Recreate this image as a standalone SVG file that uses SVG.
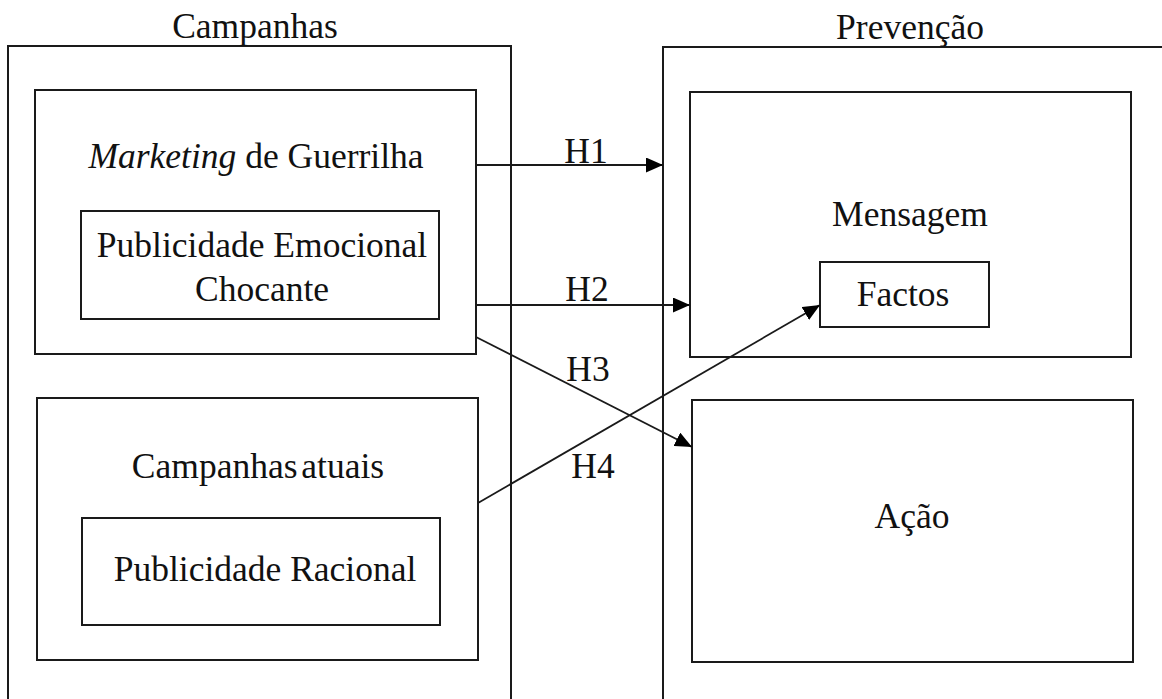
<svg xmlns="http://www.w3.org/2000/svg" width="1162" height="699" viewBox="0 0 1162 699">
<style>
.box{fill:none;stroke:#1a1a1a;stroke-width:2}
.con{fill:none;stroke:#1a1a1a;stroke-width:1.8}
.t{font-family:'Liberation Serif',serif;font-size:35.5px;fill:#111;text-anchor:middle}
</style>
<defs>
<marker id="ah" markerUnits="userSpaceOnUse" markerWidth="18" markerHeight="15" refX="17" refY="7.5" orient="auto">
<path d="M0,0 L17,7.5 L0,15 z" fill="#000"/>
</marker>
</defs>
<rect width="1162" height="699" fill="#fff"/>
<g id="campanhas">
<path class="box" d="M8,704 V46 H511 V704"/>
<text class="t" x="255" y="38">Campanhas</text>
</g>
<g id="prevencao">
<path class="box" d="M663,704 V47 H1170"/>
<text class="t" x="910" y="39">Prevenção</text>
</g>
<g id="guerrilha">
<rect class="box" x="35" y="90" width="441" height="264"/>
<text class="t" x="256" y="168"><tspan font-style="italic">Marketing</tspan> de Guerrilha</text>
</g>
<g id="emocional">
<rect class="box" x="81" y="211" width="358" height="108"/>
<text class="t" x="262" y="257">Publicidade Emocional</text>
<text class="t" x="262" y="301">Chocante</text>
</g>
<g id="atuais">
<rect class="box" x="37" y="398" width="441" height="262"/>
<text class="t" x="258" y="478" word-spacing="-5">Campanhas atuais</text>
</g>
<g id="racional">
<rect class="box" x="82" y="518" width="358" height="107"/>
<text class="t" x="265" y="581">Publicidade Racional</text>
</g>
<g id="mensagem">
<rect class="box" x="690" y="92" width="441" height="265"/>
<text class="t" x="910" y="226">Mensagem</text>
</g>
<g id="factos">
<rect class="box" x="820" y="262" width="169" height="65"/>
<text class="t" x="903" y="306">Factos</text>
</g>
<g id="acao">
<rect class="box" x="692" y="400" width="441" height="262"/>
<text class="t" x="912" y="528">Ação</text>
</g>
<g id="connectors">
<line class="con" x1="476" y1="165" x2="663" y2="165" marker-end="url(#ah)"/>
<line class="con" x1="476" y1="305" x2="690" y2="305" marker-end="url(#ah)"/>
<line class="con" x1="476" y1="337" x2="692" y2="447" marker-end="url(#ah)"/>
<line class="con" x1="478" y1="503" x2="820" y2="305" marker-end="url(#ah)"/>
<text class="t" x="586" y="163">H1</text>
<text class="t" x="587" y="301">H2</text>
<text class="t" x="588" y="381">H3</text>
<text class="t" x="593" y="478">H4</text>
</g>
</svg>
